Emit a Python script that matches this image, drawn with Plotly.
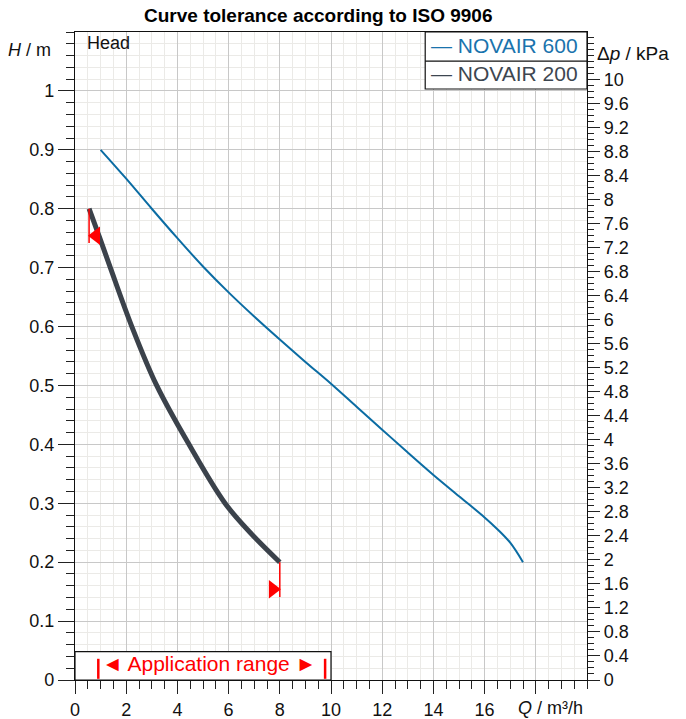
import plotly.graph_objects as go

# ---------------- data ----------------
q_600 = [1.0, 2.0, 3.0, 4.0, 5.0, 6.0, 7.0, 8.0, 9.0, 10.0, 11.0, 12.0, 13.0, 14.0, 15.0, 16.0, 16.5, 17.0, 17.5]
h_600 = [0.900, 0.851, 0.800, 0.750, 0.702, 0.658, 0.617, 0.578, 0.540, 0.503, 0.464, 0.425, 0.386, 0.348, 0.312, 0.276, 0.256, 0.233, 0.200]

q_200 = [0.55, 0.97, 1.38, 2.22, 3.19, 4.45, 5.86, 6.85, 8.0]
h_200 = [0.80, 0.75, 0.70, 0.60, 0.50, 0.40, 0.30, 0.25, 0.20]

# tolerance marks (ISO 9906) at the ends of NOVAIR 200
tol_start_q = [0.55, 0.55]
tol_start_h = [0.80, 0.742]
tol_end_q = [8.0, 8.0]
tol_end_h = [0.20, 0.141]
tri_left_q = [0.82]
tri_left_h = [0.754]
tri_right_q = [7.73]
tri_right_h = [0.154]

x_ticks = [0, 2, 4, 6, 8, 10, 12, 14, 16, 18]
x_tick_labels = ["0", "2", "4", "6", "8", "10", "12", "14", "16", ""]
h_ticks = [0, 0.1, 0.2, 0.3, 0.4, 0.5, 0.6, 0.7, 0.8, 0.9, 1.0]
h_tick_labels = ["0", "0.1", "0.2", "0.3", "0.4", "0.5", "0.6", "0.7", "0.8", "0.9", "1"]
p_ticks = [0, 0.4, 0.8, 1.2, 1.6, 2, 2.4, 2.8, 3.2, 3.6, 4, 4.4, 4.8, 5.2, 5.6, 6, 6.4, 6.8, 7.2, 7.6, 8, 8.4, 8.8, 9.2, 9.6, 10]
p_tick_labels = ["0", "0.4", "0.8", "1.2", "1.6", "2", "2.4", "2.8", "3.2", "3.6", "4", "4.4", "4.8", "5.2", "5.6", "6",
                 "6.4", "6.8", "7.2", "7.6", "8", "8.4", "8.8", "9.2", "9.6", "10"]

H_MAX = 1.1
Q_MAX = 20
KPA_PER_M = 9.81
APP_RANGE = [0.91, 9.77]
APP_TEXT_X = 5.22

BLUE = "#0b6ca3"
DARK = "#3b424b"
RED = "#ff0000"
FONT = "Liberation Sans, Arial, sans-serif"
MAJ_GRID = "#c8c8c8"
MIN_GRID = "#ebeae7"

fig = go.Figure()

fig.add_trace(go.Scatter(x=q_600, y=h_600, mode="lines", name="NOVAIR 600",
                         line=dict(color=BLUE, width=2, shape="spline"), showlegend=False))
fig.add_trace(go.Scatter(x=q_200, y=h_200, mode="lines", name="NOVAIR 200",
                         line=dict(color=DARK, width=5, shape="spline"), showlegend=False))
for qq, hh in [(tol_start_q, tol_start_h), (tol_end_q, tol_end_h)]:
    fig.add_trace(go.Scatter(x=qq, y=hh, mode="lines", line=dict(color=RED, width=1.5),
                             showlegend=False, hoverinfo="skip"))
fig.add_trace(go.Scatter(x=tri_left_q, y=tri_left_h, mode="markers", showlegend=False,
                         marker=dict(symbol="triangle-left", size=16, color=RED, line=dict(width=0))))
fig.add_trace(go.Scatter(x=tri_right_q, y=tri_right_h, mode="markers", showlegend=False,
                         marker=dict(symbol="triangle-right", size=16, color=RED, line=dict(width=0))))
# invisible trace to activate the right axis
fig.add_trace(go.Scatter(x=[0], y=[0], yaxis="y2", mode="markers", marker=dict(opacity=0),
                         showlegend=False, hoverinfo="skip"))

tickfont = dict(family=FONT, size=18, color="#111111")

fig.update_layout(
    width=686, height=719,
    margin=dict(l=75, r=99, t=32, b=39, autoexpand=False),
    paper_bgcolor="white", plot_bgcolor="white",
    font=dict(family=FONT, color="#111111"),
    xaxis=dict(range=[0, Q_MAX], tickvals=x_ticks, ticktext=x_tick_labels, tickfont=tickfont,
               automargin=False,
               ticks="outside", ticklen=13, tickcolor="#222", tickwidth=1,
               showline=True, linecolor="#111", linewidth=1.2, mirror=True,
               showgrid=True, gridcolor=MAJ_GRID, gridwidth=1, zeroline=False,
               minor=dict(dtick=0.5, ticks="outside", ticklen=8, tickcolor="#222",
                          showgrid=True, gridcolor=MIN_GRID, gridwidth=1)),
    yaxis=dict(range=[0, H_MAX], tickvals=h_ticks, ticktext=h_tick_labels, tickfont=tickfont,
               automargin=False,
               ticks="outside", ticklen=16, tickcolor="#222", tickwidth=1,
               showline=True, linecolor="#111", linewidth=1.2,
               showgrid=True, gridcolor=MAJ_GRID, gridwidth=1, zeroline=False,
               minor=dict(tick0=0, dtick=0.02, ticks="outside", ticklen=8, tickcolor="#222",
                          showgrid=True, gridcolor=MIN_GRID, gridwidth=1)),
    yaxis2=dict(range=[0, H_MAX * KPA_PER_M], overlaying="y", side="right",
                tickvals=p_ticks, ticktext=p_tick_labels, tickfont=tickfont,
                automargin=False,
                ticks="outside", ticklen=12, tickcolor="#222", tickwidth=1,
                showline=True, linecolor="#111", linewidth=1.2,
                showgrid=False, zeroline=False,
                minor=dict(tick0=0, dtick=0.1, ticks="outside", ticklen=6, tickcolor="#222", showgrid=False)),
)

shapes = []
# application range box
shapes.append(dict(type="rect", xref="x", yref="y", x0=0, x1=10, y0=0, y1=0.048,
                   fillcolor="white", line=dict(color="#111", width=1.2), layer="above"))
for xv in APP_RANGE:
    shapes.append(dict(type="line", xref="x", yref="y", x0=xv, x1=xv, y0=0.002, y1=0.036,
                       line=dict(color=RED, width=2.5), layer="above"))
# legend box
shapes.append(dict(type="rect", xref="paper", yref="paper", x0=0.684, x1=1.0, y0=0.912, y1=1.0,
                   fillcolor="white", line=dict(color="#111", width=1.2), layer="above"))
shapes.append(dict(type="line", xref="paper", yref="paper", x0=0.684, x1=1.0, y0=0.955, y1=0.955,
                   line=dict(color="#111", width=1.2), layer="above"))
fig.update_layout(shapes=shapes)

ann = []
ann.append(dict(text="<b>Curve tolerance according to ISO 9906</b>", xref="paper", yref="paper",
                x=0.4746, y=1.026, xanchor="center", yanchor="middle", showarrow=False,
                font=dict(family=FONT, size=19, color="#000")))
ann.append(dict(text="<i>H</i> / m", xref="paper", yref="paper", x=-0.043, y=0.972,
                xanchor="right", yanchor="middle", showarrow=False, font=dict(family=FONT, size=18, color="#111")))
ann.append(dict(text="Head", xref="paper", yref="paper", x=0.020, y=0.983,
                xanchor="left", yanchor="middle", showarrow=False, font=dict(family=FONT, size=18, color="#111")))
ann.append(dict(text="Δ<i>p</i> / kPa", xref="paper", yref="paper", x=1.0156, y=0.967,
                xanchor="left", yanchor="middle", showarrow=False, font=dict(family=FONT, size=19, color="#111")))
ann.append(dict(text="<i>Q</i> / m³/h", xref="paper", yref="paper", x=0.996, y=-0.043,
                xanchor="right", yanchor="middle", showarrow=False, font=dict(family=FONT, size=18, color="#111")))
ann.append(dict(text="◄ Application range ►", xref="x", yref="y", x=APP_TEXT_X, y=0.028,
                xanchor="center", yanchor="middle", showarrow=False, font=dict(family=FONT, size=21, color=RED)))
ann.append(dict(text="— NOVAIR 600", xref="paper", yref="paper", x=0.692, y=0.979,
                xanchor="left", yanchor="middle", showarrow=False, font=dict(family=FONT, size=21, color="#1a73ad")))
ann.append(dict(text="— NOVAIR 200", xref="paper", yref="paper", x=0.692, y=0.936,
                xanchor="left", yanchor="middle", showarrow=False, font=dict(family=FONT, size=21, color="#3d4650")))
fig.update_layout(annotations=ann)

# remove the default 8px body margin of the page so the figure sits at the window origin
fig.write_html("out.html", config={"displayModeBar": False},
               post_script="document.body.style.margin='0';document.body.style.overflow='hidden';")
